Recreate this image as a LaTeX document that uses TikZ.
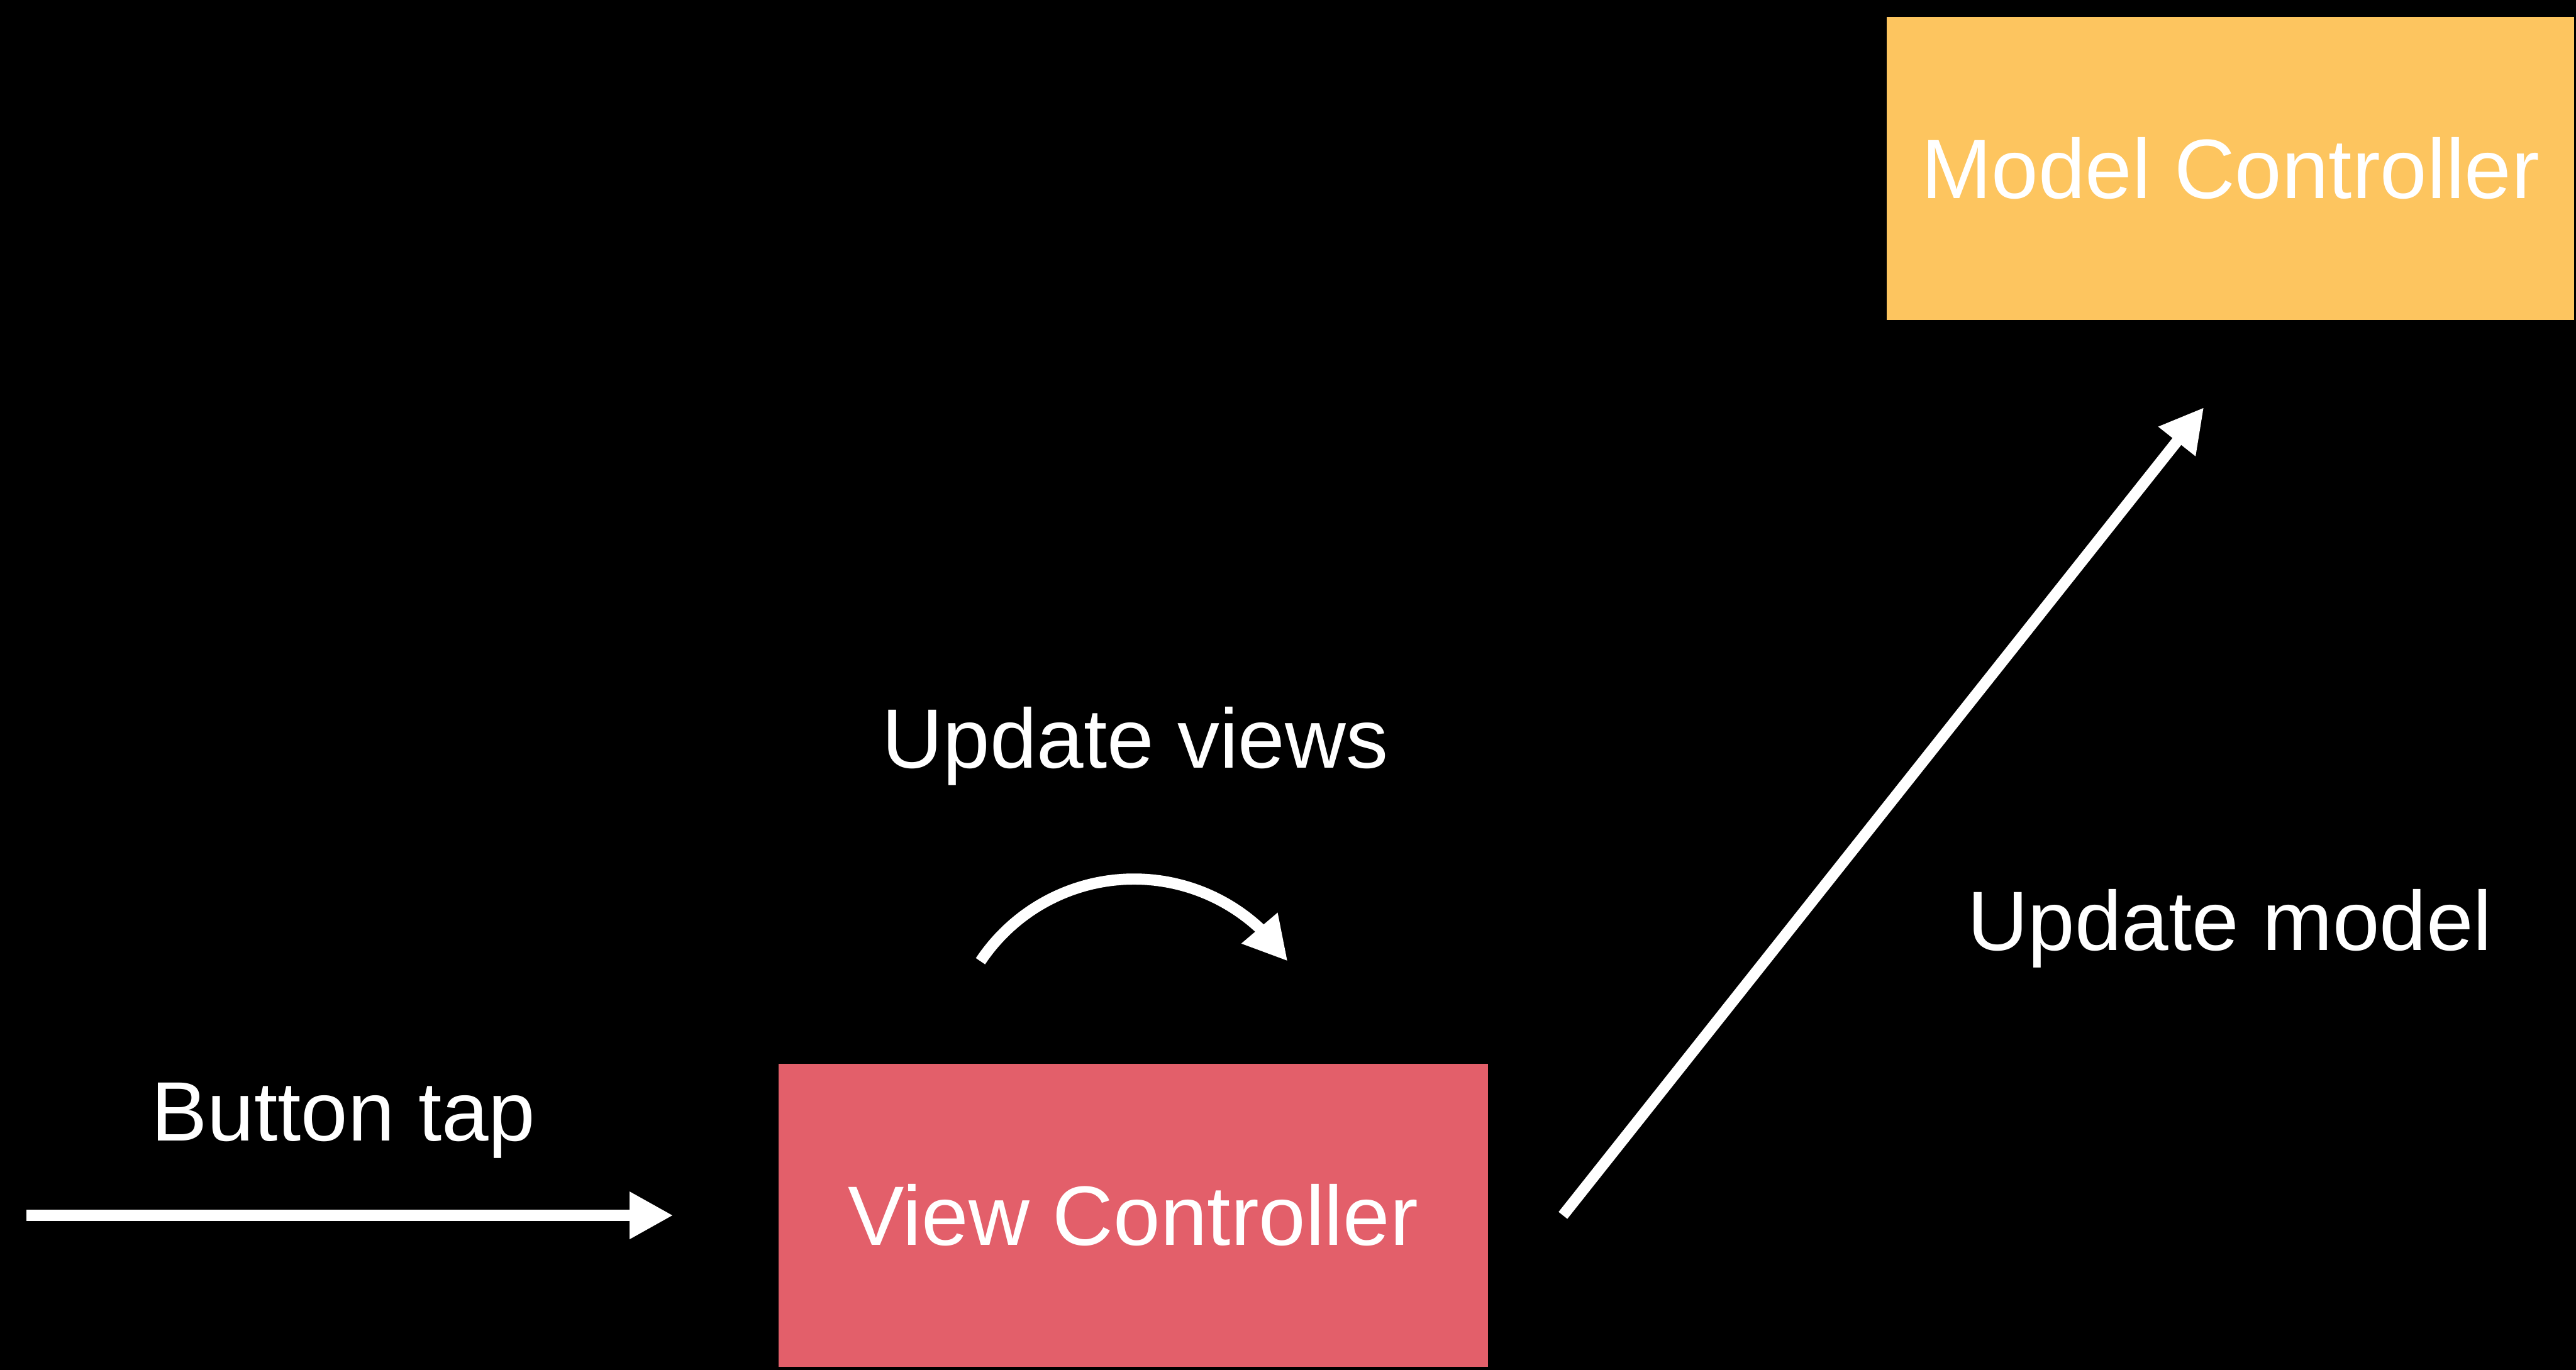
\documentclass[tikz,border=0pt]{standalone}
\usepackage{fontspec}
\setmainfont{Liberation Sans}
\usetikzlibrary{arrows.meta}
\definecolor{viewred}{HTML}{E35F6A}
\definecolor{modelgold}{HTML}{FDC55F}

\begin{document}
\begin{tikzpicture}[text=white,font=\fontsize{14.6}{17}\selectfont,ctrl/.style={minimum width=#1,minimum height=1.845cm,inner sep=0pt},flow/.style={draw=white,line width=1.93pt,-{Triangle[length=2.65mm,width=2.7mm]}},caption/.style={anchor=base}]
 \fill[black] (0,0) rectangle (15.68,8.34);
 \node[ctrl=4.317cm,fill=viewred] (vc) at (6.898,0.94) {View Controller};
 \node[ctrl=4.183cm,fill=modelgold] (mc) at (13.577,7.315) {Model Controller};
 \coordinate (tapstart) at (0.162,0.94);
 \node[caption] (taplabel) at (2.09,1.394) {Button tap};
 \node[caption] (viewslabel) at (6.91,3.665) {Update views};
 \node[caption] (modellabel) at (13.572,2.552) {Update model};
 \draw[flow,shorten >=0.635cm] (tapstart) -- (vc.west);
 % self update loop above the view controller, tip set on the last chord
 \draw[flow] ([xshift=-0.93cm,yshift=0.618cm]vc.north) arc[start angle=146.3,end angle=47.2,radius=1.124cm] -- ([xshift=0.94cm,yshift=0.618cm]vc.north);
 \draw[flow] ([xshift=0.45cm]vc.east) -- ([xshift=-0.162cm,yshift=-0.526cm]mc.south);
\end{tikzpicture}
\end{document}
